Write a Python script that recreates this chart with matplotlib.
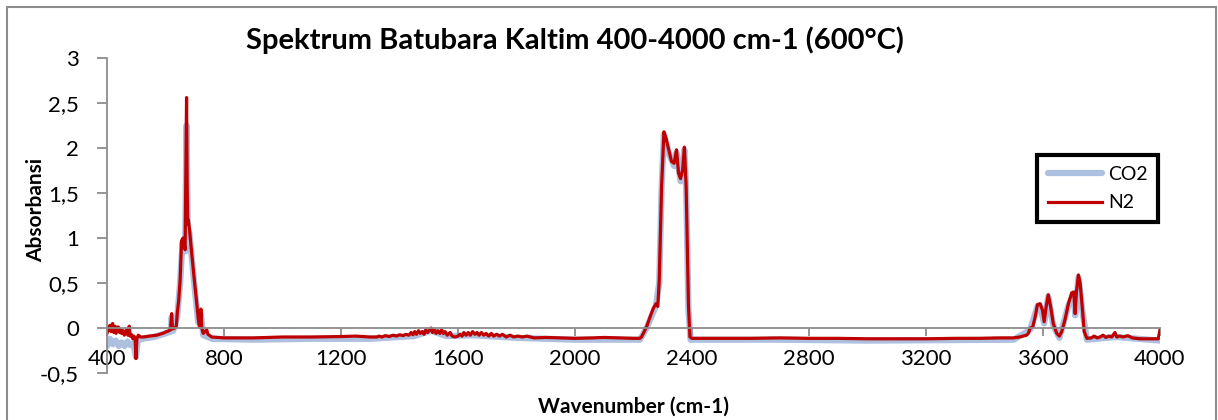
import numpy as np
import matplotlib
matplotlib.use("Agg")
import matplotlib.pyplot as plt
from matplotlib.patches import Rectangle
from matplotlib.ticker import FuncFormatter

plt.rcParams['font.family'] = ['Lato', 'DejaVu Sans']

# Spektrum N2 (wavenumber, absorbansi)
n2_wn = [400, 406, 410, 414, 419, 423, 427, 431, 435, 439, 443, 447, 450, 455, 459,
         463, 467, 471, 476, 479, 483, 488, 492, 496, 499, 502, 507, 515, 524, 545,
         570, 590, 604, 612, 617, 621, 624, 632, 637, 640, 645, 650, 655, 660, 664,
         667, 669, 672, 674, 676, 678, 682, 689, 698, 706, 712, 716, 719, 721, 724,
         729, 735, 741, 745, 758, 800, 900, 1000, 1100, 1200, 1250, 1300, 1323, 1330,
         1340, 1352, 1365, 1378, 1390, 1400, 1412, 1422, 1432, 1440, 1446, 1452, 1458,
         1465, 1471, 1478, 1484, 1490, 1496, 1502, 1508, 1513, 1519, 1525, 1531, 1538,
         1544, 1550, 1556, 1563, 1573, 1580, 1590, 1600, 1607, 1614, 1620, 1628, 1635,
         1642, 1650, 1658, 1665, 1672, 1680, 1688, 1696, 1705, 1714, 1722, 1732, 1742,
         1752, 1765, 1778, 1790, 1805, 1820, 1836, 1860, 1900, 1950, 2000, 2060, 2100,
         2150, 2200, 2222, 2228, 2245, 2257, 2268, 2277, 2283, 2288, 2296, 2304, 2311,
         2322, 2330, 2339, 2347, 2354, 2361, 2368, 2374, 2380, 2388, 2393, 2400, 2500,
         2600, 2700, 2800, 2900, 3000, 3100, 3200, 3300, 3385, 3450, 3498, 3520, 3544,
         3550, 3556, 3565, 3573, 3581, 3590, 3598, 3604, 3611, 3618, 3626, 3635, 3647,
         3656, 3664, 3675, 3687, 3698, 3705, 3710, 3714, 3721, 3727, 3735, 3741, 3750,
         3765, 3775, 3785, 3795, 3805, 3815, 3825, 3835, 3846, 3852, 3862, 3875, 3890,
         3905, 3932, 3960, 3994, 4000]
n2_abs = [-0.06, 0.0, 0.03, -0.04, 0.05, -0.05, 0.02, -0.06, 0.01, 0.01, -0.05, -0.02,
          -0.06, -0.03, -0.08, -0.04, -0.02, -0.08, 0.02, -0.09, -0.07, -0.12, -0.09,
          -0.12, -0.34, -0.12, -0.08, -0.1, -0.1, -0.09, -0.08, -0.06, -0.04, -0.03,
          -0.02, 0.16, -0.01, 0.0, 0.02, 0.16, 0.3, 0.53, 0.97, 1.0, 0.93, 0.87, 1.5,
          2.56, 1.6, 1.15, 1.2, 1.1, 0.85, 0.55, 0.3, 0.1, 0.01, 0.02, 0.21, 0.0, -0.06,
          -0.04, -0.02, -0.07, -0.1, -0.11, -0.11, -0.1, -0.1, -0.095, -0.09, -0.1,
          -0.1, -0.09, -0.1, -0.085, -0.095, -0.08, -0.09, -0.075, -0.085, -0.07, -0.08,
          -0.05, -0.075, -0.04, -0.07, -0.03, -0.06, -0.04, -0.07, -0.02, -0.05, -0.03,
          0.0, -0.05, -0.02, -0.06, -0.03, -0.06, -0.02, -0.06, -0.04, -0.08, -0.05,
          -0.09, -0.1, -0.09, -0.07, -0.09, -0.05, -0.08, -0.05, -0.08, -0.04, -0.07,
          -0.05, -0.08, -0.05, -0.08, -0.06, -0.09, -0.06, -0.09, -0.07, -0.09, -0.07,
          -0.1, -0.08, -0.1, -0.09, -0.1, -0.09, -0.11, -0.105, -0.11, -0.115, -0.11,
          -0.105, -0.11, -0.115, -0.115, -0.096, 0.015, 0.126, 0.22, 0.27, 0.24, 0.53,
          1.57, 2.18, 2.11, 1.96, 1.85, 1.83, 1.98, 1.72, 1.66, 1.76, 2.01, 1.57, 0.24,
          -0.1, -0.115, -0.115, -0.115, -0.11, -0.115, -0.115, -0.12, -0.12, -0.12,
          -0.115, -0.115, -0.11, -0.11, -0.1, -0.08, -0.06, 0.0, 0.01, 0.12, 0.26, 0.27,
          0.2, 0.07, 0.24, 0.37, 0.24, 0.05, -0.06, -0.09, -0.04, 0.09, 0.27, 0.39, 0.40,
          0.16, 0.39, 0.59, 0.50, 0.20, -0.04, -0.115, -0.11, -0.09, -0.11, -0.1, -0.08,
          -0.105, -0.09, -0.1, -0.05, -0.1, -0.09, -0.1, -0.085, -0.11, -0.12, -0.12,
          -0.12, -0.02]

# Spektrum CO2
co2_wn = [400, 410, 420, 430, 440, 450, 460, 470, 480, 490, 499, 505, 520, 560, 600,
          618, 621, 626, 640, 650, 658, 667, 672, 676, 682, 698, 712, 721, 729, 760,
          900, 1100, 1300, 1450, 1508, 1560, 1650, 1800, 2000, 2222, 2245, 2277, 2288,
          2296, 2304, 2322, 2339, 2347, 2361, 2374, 2380, 2388, 2395, 2700, 3000, 3500,
          3556, 3581, 3590, 3604, 3618, 3635, 3656, 3687, 3705, 3710, 3721, 3735, 3750,
          3850, 4000]
co2_abs = [-0.2, -0.12, -0.18, -0.14, -0.2, -0.16, -0.2, -0.15, -0.19, -0.17, -0.32,
           -0.14, -0.12, -0.1, -0.06, -0.04, 0.12, -0.03, 0.12, 0.5, 0.95, 0.85, 2.25,
           1.1, 1.05, 0.5, 0.06, 0.15, -0.08, -0.12, -0.13, -0.12, -0.12, -0.09, -0.03,
           -0.09, -0.08, -0.11, -0.13, -0.13, 0.0, 0.25, 0.5, 1.55, 2.15, 1.93, 1.8, 1.95,
           1.63, 1.98, 1.55, 0.2, -0.13, -0.13, -0.14, -0.13, -0.02, 0.24, 0.25, 0.05,
           0.35, 0.03, -0.11, 0.25, 0.38, 0.14, 0.56, 0.18, -0.13, -0.1, -0.14]

x_ticks = [400, 800, 1200, 1600, 2000, 2400, 2800, 3200, 3600, 4000]
y_ticks = [-0.5, 0, 0.5, 1, 1.5, 2, 2.5, 3]

W, H = 1218, 420
fig = plt.figure(figsize=(W / 100, H / 100), dpi=100)
ax = fig.add_axes([107 / W, 1 - 373 / H, 1053 / W, 315 / H])

ax.plot(co2_wn, co2_abs, color='#8aa6d2', lw=4.5, alpha=0.7,
        solid_capstyle='round', label='CO2')
ax.plot(n2_wn, n2_abs, color='#c00000', lw=2.3, label='N2')

ax.set_xlim(400, 4000)
ax.set_ylim(-0.5, 3)
ax.set_xticks(x_ticks)
ax.set_yticks(y_ticks)
ax.yaxis.set_major_formatter(FuncFormatter(lambda v, p: f"{v:g}".replace('.', ',')))

# sumbu x memotong di y = 0
ax.spines['bottom'].set_position(('data', 0))
ax.spines['top'].set_visible(False)
ax.spines['right'].set_visible(False)
for s in ('left', 'bottom'):
    ax.spines[s].set_color('#8c8c8c')
    ax.spines[s].set_linewidth(1.3)
ax.tick_params(axis='y', direction='out', length=7, width=1.3, color='#8c8c8c',
               pad=13, labelsize=16)
ax.tick_params(axis='x', direction='out', length=6, width=1.3, color='#8c8c8c',
               pad=9, labelsize=16)

fig.text(575 / W, 1 - 40 / H, 'Spektrum Batubara Kaltim 400-4000 cm-1 (600°C)',
         ha='center', va='center', fontsize=21, fontweight='bold')
fig.text(633 / W, 1 - 407 / H, 'Wavenumber (cm-1)', ha='center', va='center',
         fontsize=15, fontweight='bold')
fig.text(36 / W, 1 - 210 / H, 'Absorbansi', ha='center', va='center',
         rotation=90, fontsize=15, fontweight='bold')

leg = ax.legend(loc='upper left', bbox_to_anchor=(1037 / W, 1 - 155 / H),
                bbox_transform=fig.transFigure, fontsize=14, fancybox=False,
                framealpha=1, handlelength=2.8, handletextpad=0.3, borderpad=0.55,
                labelspacing=0.6, borderaxespad=0)
leg.get_frame().set_edgecolor('black')
leg.get_frame().set_linewidth(3)

# bingkai luar
fig.patches.append(Rectangle((7 / W, -0.01), 1209 / W, 1 - 7 / H + 0.01,
                             transform=fig.transFigure, fill=False,
                             edgecolor='#8c8c8c', lw=1.5))

fig.savefig('out.png', dpi=100)
